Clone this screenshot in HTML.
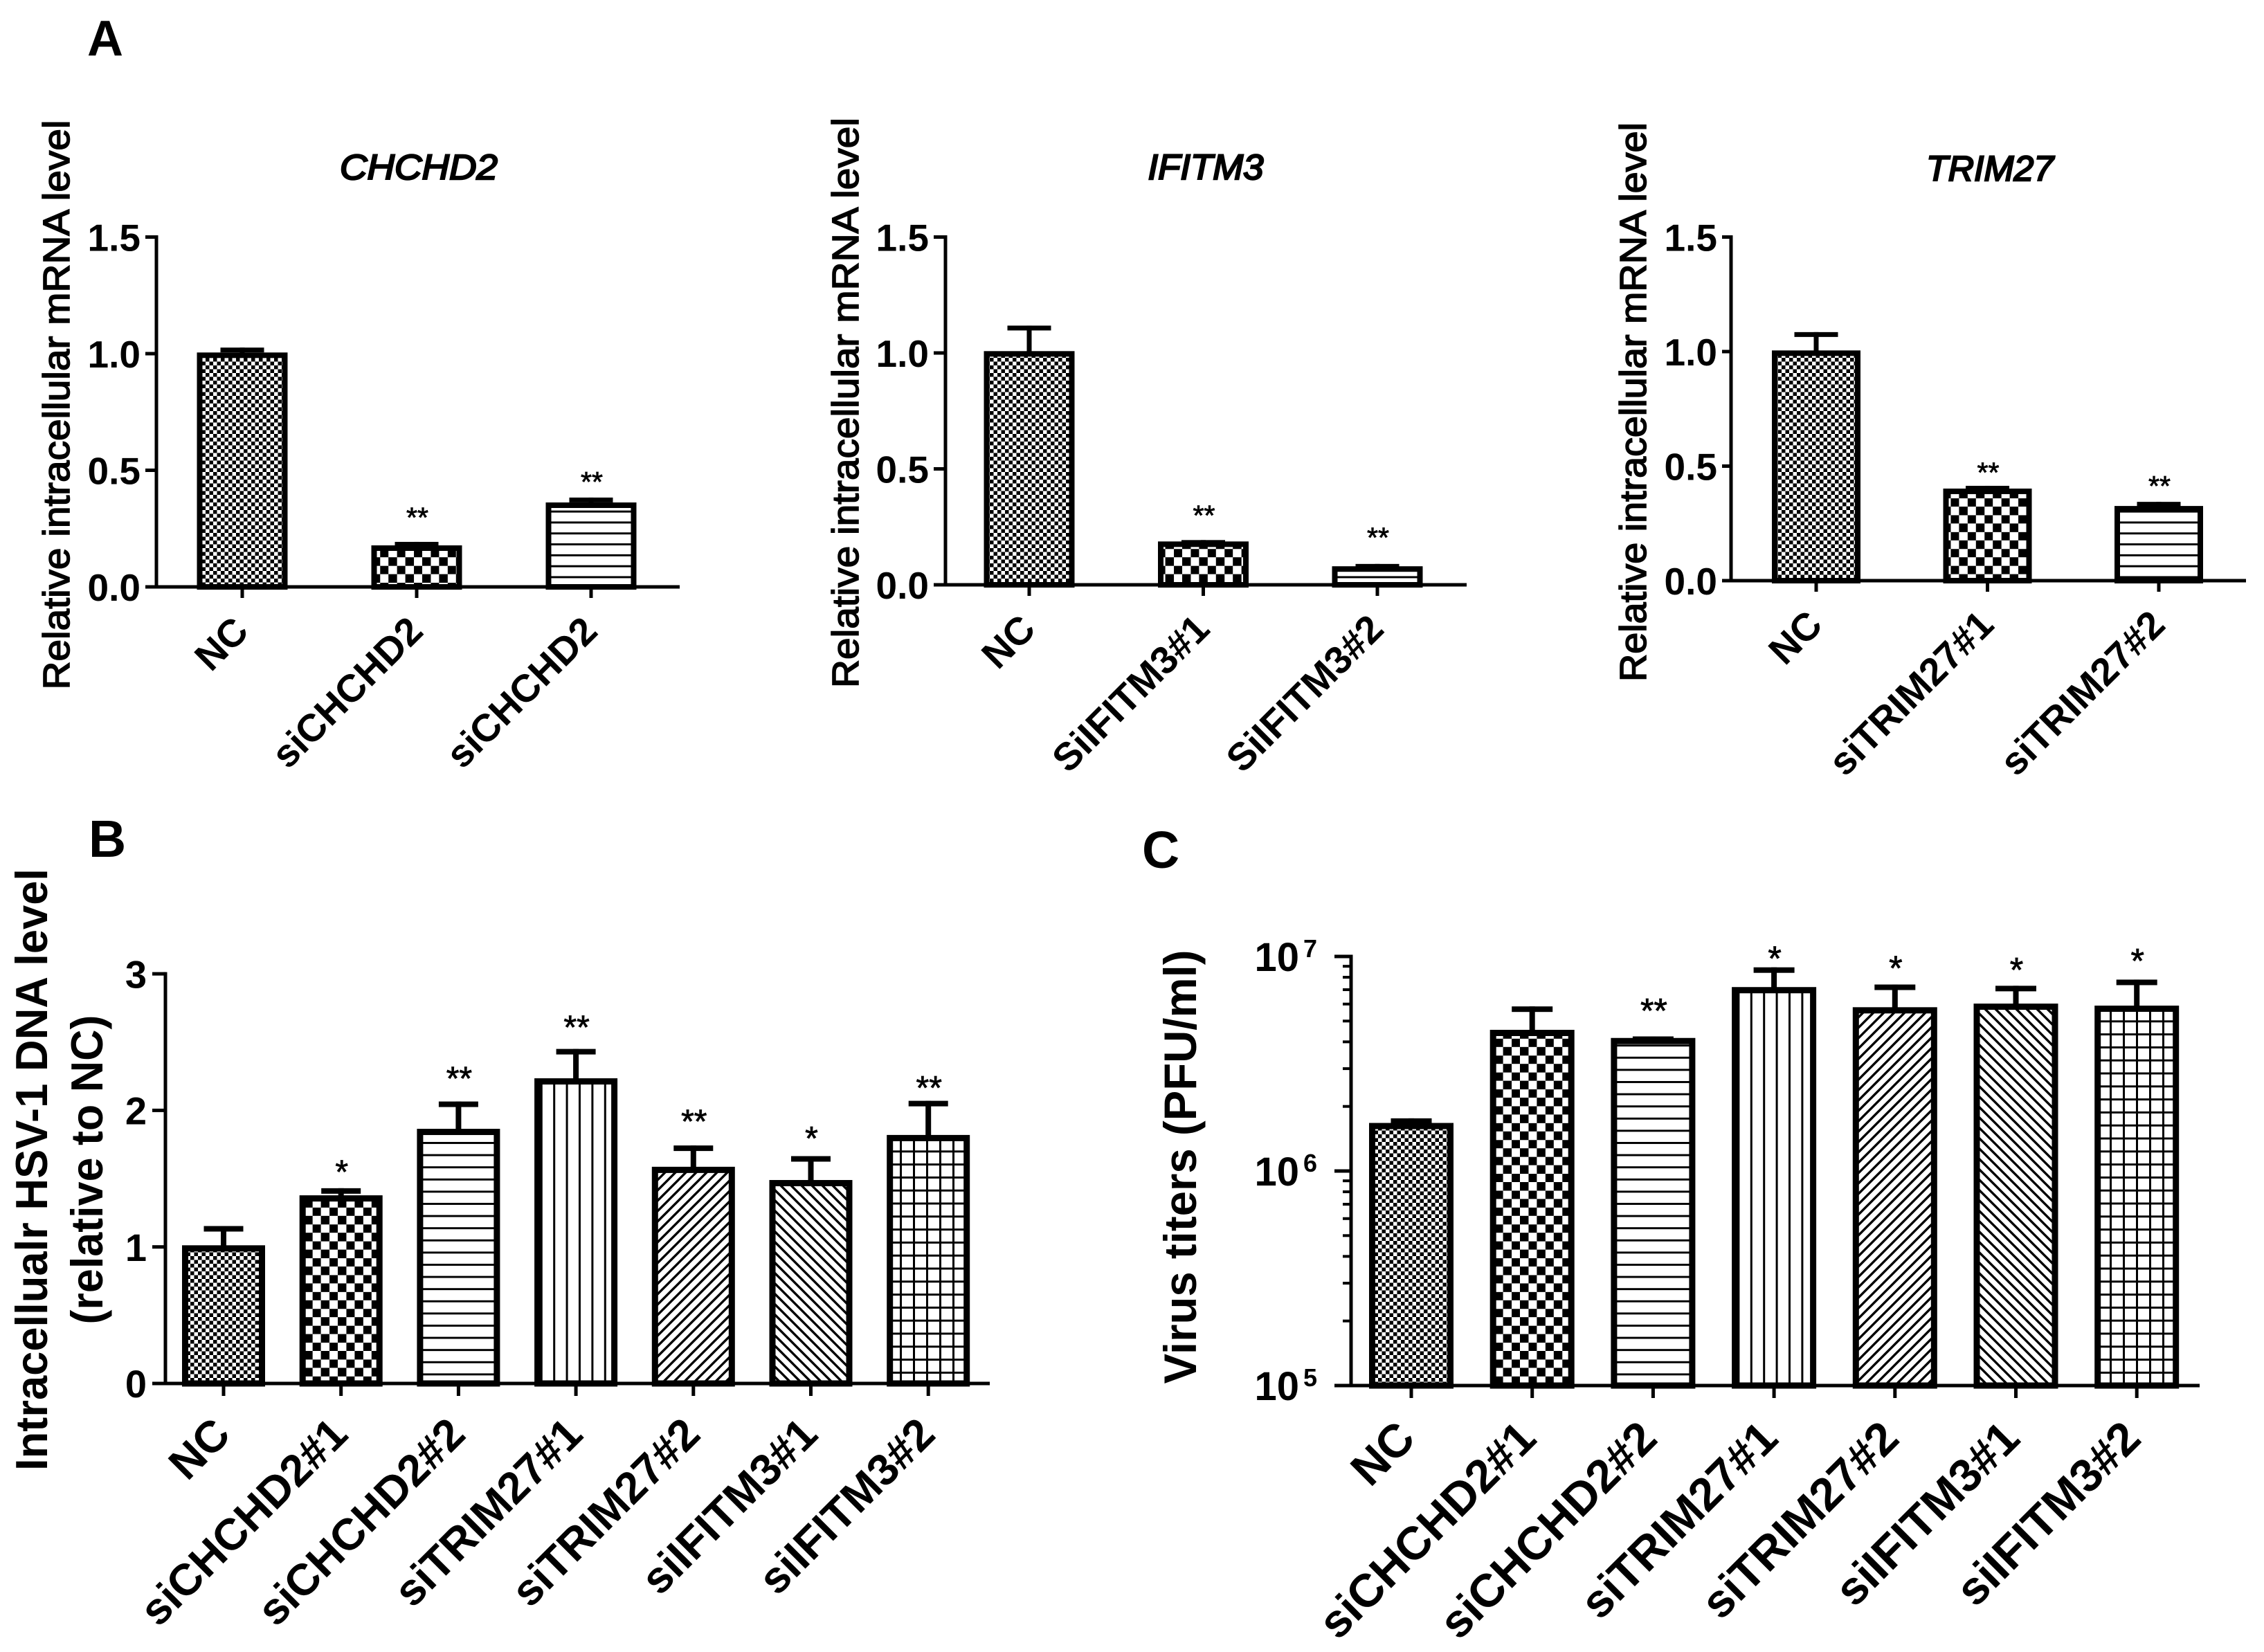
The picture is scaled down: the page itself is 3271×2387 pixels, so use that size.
<!DOCTYPE html>
<html lang="en">
<head>
<meta charset="utf-8">
<title>Knockdown efficiency and HSV-1 replication bar charts</title>
<style>
html,body{margin:0;padding:0;background:#fff;}
svg{display:block;}
text{font-family:"Liberation Sans",sans-serif;fill:#000;}
</style>
</head>
<body>
<svg id="figure" xmlns="http://www.w3.org/2000/svg" width="3271" height="2387" viewBox="0 0 3271 2387">
  <defs>
    <pattern id="fine" patternUnits="userSpaceOnUse" width="11" height="11" shape-rendering="crispEdges"><rect width="11" height="11" fill="#fff"/><rect width="5.5" height="5.5" fill="#000"/><rect x="5.5" y="5.5" width="5.5" height="5.5" fill="#000"/></pattern>
    <pattern id="check" patternUnits="userSpaceOnUse" width="24.4" height="24.4" shape-rendering="crispEdges"><rect width="24.4" height="24.4" fill="#fff"/><rect width="12.2" height="12.2" fill="#000"/><rect x="12.2" y="12.2" width="12.2" height="12.2" fill="#000"/></pattern>
    <pattern id="hline" patternUnits="userSpaceOnUse" width="18" height="17.6" shape-rendering="crispEdges"><rect width="18" height="17.6" fill="#fff"/><rect y="13" width="18" height="3" fill="#000"/></pattern>
    <pattern id="hlineA" patternUnits="userSpaceOnUse" width="18" height="15.8" shape-rendering="crispEdges"><rect width="18" height="15.8" fill="#fff"/><rect y="11" width="18" height="3" fill="#000"/></pattern>
    <pattern id="vline" patternUnits="userSpaceOnUse" width="18.4" height="18"><rect width="18.4" height="18" fill="#fff"/><rect x="8" width="3" height="18" fill="#000"/></pattern>
    <pattern id="diagUp" patternUnits="userSpaceOnUse" width="15" height="15"><rect width="15" height="15" fill="#fff"/><path d="M-3 18L18 -3" stroke="#000" stroke-width="3.4"/><path d="M-3 3L3 -3M12 18L18 12" stroke="#000" stroke-width="3.4"/></pattern>
    <pattern id="diagDown" patternUnits="userSpaceOnUse" width="15" height="15"><rect width="15" height="15" fill="#fff"/><path d="M-3 -3L18 18" stroke="#000" stroke-width="3.4"/><path d="M12 -3L18 3M-3 12L3 18" stroke="#000" stroke-width="3.4"/></pattern>
    <pattern id="grid" patternUnits="userSpaceOnUse" width="19" height="18.8" shape-rendering="crispEdges"><rect width="19" height="18.8" fill="#fff"/><rect x="8" width="3" height="18.8" fill="#000"/><rect y="8" width="19" height="3" fill="#000"/></pattern>
  </defs>
  <text x="126" y="80" font-size="72" font-weight="700">A</text>
  <text x="128" y="1238" font-size="75" font-weight="700">B</text>
  <text x="1650" y="1254" font-size="75" font-weight="700">C</text>
  <g id="charts"></g>
</svg>
<script>
// ---------- Panel A: CHCHD2 ----------
var chchd2Categories = ['NC', 'siCHCHD2', 'siCHCHD2'];
var chchd2Values = [1.005, 0.178, 0.362];
var chchd2ErrorTops = [1.026, 0.193, 0.383];
var chchd2SigLabels = ['', '**', '**'];
var chchd2SigLevels = [0, 0.308, 0.46];
var mrnaTickValues = [0, 0.5, 1.0, 1.5];
var mrnaTickLabels = ['0.0', '0.5', '1.0', '1.5'];

// ---------- Panel A: IFITM3 ----------
var ifitm3Categories = ['NC', 'SiIFITM3#1', 'SiIFITM3#2'];
var ifitm3Values = [1.008, 0.187, 0.08];
var ifitm3ErrorTops = [1.118, 0.193, 0.09];
var ifitm3SigLabels = ['', '**', '**'];
var ifitm3SigLevels = [0, 0.31, 0.214];

// ---------- Panel A: TRIM27 ----------
var trim27Categories = ['NC', 'siTRIM27#1', 'siTRIM27#2'];
var trim27Values = [1.005, 0.402, 0.326];
var trim27ErrorTops = [1.085, 0.414, 0.344];
var trim27SigLabels = ['', '**', '**'];
var trim27SigLevels = [0, 0.483, 0.423];

// ---------- Panel B: intracellular HSV-1 DNA ----------
var dnaCategories = ['NC', 'siCHCHD2#1', 'siCHCHD2#2', 'siTRIM27#1', 'siTRIM27#2', 'siIFITM3#1', 'siIFITM3#2'];
var dnaValues = [1.012, 1.378, 1.865, 2.235, 1.587, 1.49, 1.82];
var dnaErrorTops = [1.153, 1.43, 2.065, 2.45, 1.743, 1.665, 2.07];
var dnaSigLabels = ['', '*', '**', '**', '**', '*', '**'];
var dnaSigLevels = [0, 1.576, 2.26, 2.635, 1.945, 1.82, 2.19];
var dnaTickValues = [0, 1, 2, 3];
var dnaTickLabels = ['0', '1', '2', '3'];

// ---------- Panel C: virus titers (log axis) ----------
var titerCategories = ['NC', 'siCHCHD2#1', 'siCHCHD2#2', 'siTRIM27#1', 'siTRIM27#2', 'siIFITM3#1', 'siIFITM3#2'];
var titerValues = [1675000, 4550000, 4170000, 7200000, 5800000, 6030000, 5900000];
var titerErrorTops = [1760000, 5850000, 4240000, 8900000, 7400000, 7300000, 7800000];
var titerSigLabels = ['', '', '**', '*', '*', '*', '*'];
var titerSigLevels = [0, 0, 5820000, 10200000, 9180000, 9000000, 9930000];
var titerTickExponents = [5, 6, 7];

var SVG_NS = 'http://www.w3.org/2000/svg';
var chartsRoot = document.getElementById('charts');

function mk(tag, attrs, parent) {
  var node = document.createElementNS(SVG_NS, tag);
  for (var key in attrs) { node.setAttribute(key, attrs[key]); }
  parent.appendChild(node);
  return node;
}
function slug(s) { return String(s).toLowerCase().replace(/#/g, '-').replace(/\./g, '-'); }

function drawPanel(p) {
  var group = mk('g', {}, chartsRoot);
  
  

  var yScale;
  if (p.log) {
    yScale = function (v) { return p.y0 - (Math.log10(v) - p.logMin) * p.decadePx; };
  } else {
    yScale = function (v) { return p.y0 - v * p.unitPx; };
  }
  var xScale = function (i) { return p.firstX + i * p.stepX; };
  var axisTopY = p.log ? yScale(Math.pow(10, p.logMax)) : yScale(p.yMax);

  // bars and error bars
  p.categories.forEach(function (cat, i) {
    var cx = xScale(i);
    var top = yScale(p.values[i]);
    var errTop = yScale(p.errorTops[i]);
    var stem = mk('rect', { x: cx - p.stemW / 2, y: errTop, width: p.stemW, height: top - errTop + 4, fill: '#000' }, group);
    
    
    var cap = mk('rect', { x: cx - p.capW / 2, y: errTop, width: p.capW, height: p.capH, fill: '#000' }, group);
    
    
    var bar = mk('rect', {
      x: cx - p.barW / 2 + p.barStroke / 2, y: top + p.barStroke / 2,
      width: p.barW - p.barStroke, height: p.y0 - top - p.barStroke / 2,
      fill: 'url(#' + p.fills[i] + ')', stroke: '#000', 'stroke-width': p.barStroke
    }, group);
    
    

    var tick = mk('rect', { x: cx - 2.5, y: p.y0, width: 5, height: p.xTickLen, fill: '#000' }, group);
    
    

    var px = cx + p.labelDx, py = p.y0 + p.labelDy;
    var lab = mk('text', { x: px, y: py, 'font-size': p.labelFont, 'font-weight': 700, 'text-anchor': 'end', transform: 'rotate(-45 ' + px + ' ' + py + ')' }, group);
    lab.textContent = cat;
    
    

    if (p.sigLabels[i]) {
      var sy = yScale(p.sigLevels[i]) + 0.59 * p.starFont - 7;
      var star = mk('text', { x: cx + 1, y: sy, 'font-size': p.starFont, 'text-anchor': 'middle', stroke: '#000', 'stroke-width': 0.8 }, group);
      star.textContent = p.sigLabels[i];
      
      
    }
  });

  // axes
  var yAxis = mk('rect', { x: p.axisX - 2.5, y: axisTopY - 2.5, width: 5, height: p.y0 - axisTopY + 5, fill: '#000' }, group);
  
  
  var xAxis = mk('rect', { x: p.xStart, y: p.y0 - 2.5, width: p.xEnd - p.xStart, height: 5, fill: '#000' }, group);
  
  

  // y ticks + labels
  if (p.log) {
    p.tickExponents.forEach(function (exp) {
      var ty = yScale(Math.pow(10, exp));
      var t = mk('rect', { x: p.xStart, y: ty - 2.5, width: p.axisX - p.xStart, height: 5, fill: '#000' }, group);
      
      
      var base = mk('text', { x: p.tickLabelX - 26, y: ty + 21, 'font-size': p.tickFont, 'font-weight': 700, 'text-anchor': 'end' }, group);
      base.textContent = '10';
      
      
      var sup = mk('text', { x: p.tickLabelX, y: ty + 1, 'font-size': 36, 'font-weight': 700, 'text-anchor': 'end' }, group);
      sup.textContent = String(exp);
      
      
      if (exp < p.logMax) {
        for (var m = 2; m <= 9; m++) {
          var my = yScale(m * Math.pow(10, exp));
          var mt = mk('rect', { x: p.axisX - 12, y: my - 2, width: 12, height: 4, fill: '#000' }, group);
          
          
        }
      }
    });
  } else {
    p.tickValues.forEach(function (v, i) {
      var ty = yScale(v);
      var t = mk('rect', { x: p.xStart, y: ty - 2.5, width: p.axisX - p.xStart, height: 5, fill: '#000' }, group);
      
      
      var tl = mk('text', { x: p.tickLabelX, y: ty + 0.36 * p.tickFont, 'font-size': p.tickFont, 'font-weight': 700, 'text-anchor': 'end' }, group);
      tl.textContent = p.tickLabels[i];
      
      
    });
  }

  // y-axis title lines
  p.yTitles.forEach(function (line, i) {
    var tx = line.x, tyc = line.cy;
    var yt = mk('text', {
      x: tx, y: tyc, 'font-size': line.font, 'font-weight': line.weight, 'text-anchor': 'middle',
      textLength: line.len, lengthAdjust: 'spacingAndGlyphs',
      stroke: '#000', 'stroke-width': line.stroke || 0,
      transform: 'rotate(-90 ' + tx + ' ' + tyc + ')'
    }, group);
    yt.textContent = line.text;
    
    
  });

  // gene title
  if (p.title) {
    var title = mk('text', {
      x: p.title.x, y: p.title.y, 'font-size': 51, 'font-weight': 400, 'font-style': 'italic', 'text-anchor': 'middle',
      stroke: '#000', 'stroke-width': 2.4,
      textLength: p.title.len, lengthAdjust: 'spacingAndGlyphs'
    }, group);
    title.textContent = p.title.text;
    
    
  }
}

var mrnaStyle = { barW: 131, barStroke: 8, stemW: 7, capW: 63, capH: 7, xTickLen: 16, labelFont: 56, labelDx: 12, labelDy: 67, starFont: 41, tickFont: 55, yMax: 1.5 };
var manyStyle = { barW: 120, barStroke: 9, stemW: 8, capW: 57, capH: 8, xTickLen: 18, labelFont: 64, labelDx: 13, labelDy: 77, starFont: 48, tickFont: 56 };

function merge(a, b) { var o = {}; for (var k in a) o[k] = a[k]; for (var j in b) o[j] = b[j]; return o; }

drawPanel(merge(mrnaStyle, {
  id: 'chchd2', axisX: 226, y0: 848, unitPx: 337, firstX: 350, stepX: 252, xStart: 210, xEnd: 982, tickLabelX: 203,
  categories: chchd2Categories, values: chchd2Values, errorTops: chchd2ErrorTops, sigLabels: chchd2SigLabels, sigLevels: chchd2SigLevels,
  tickValues: mrnaTickValues, tickLabels: mrnaTickLabels, fills: ['fine', 'check', 'hlineA'],
  title: { text: 'CHCHD2', x: 605, y: 259, len: 228 },
  yTitles: [{ text: 'Relative intracellular mRNA level', x: 100, cy: 585, len: 823, font: 54, weight: 400, stroke: 1.6 }]
}));
drawPanel(merge(mrnaStyle, {
  id: 'ifitm3', axisX: 1366, y0: 845, unitPx: 335, firstX: 1487, stepX: 251.5, xStart: 1349, xEnd: 2119, tickLabelX: 1342,
  categories: ifitm3Categories, values: ifitm3Values, errorTops: ifitm3ErrorTops, sigLabels: ifitm3SigLabels, sigLevels: ifitm3SigLevels,
  tickValues: mrnaTickValues, tickLabels: mrnaTickLabels, fills: ['fine', 'check', 'hlineA'],
  title: { text: 'IFITM3', x: 1742, y: 259, len: 167 },
  yTitles: [{ text: 'Relative intracellular mRNA level', x: 1240, cy: 582, len: 824, font: 54, weight: 400, stroke: 1.6 }]
}));
drawPanel(merge(mrnaStyle, {
  id: 'trim27', axisX: 2501, y0: 839, unitPx: 331, firstX: 2624, stepX: 247.5, barW: 128, xStart: 2488, xEnd: 3245, tickLabelX: 2481,
  categories: trim27Categories, values: trim27Values, errorTops: trim27ErrorTops, sigLabels: trim27SigLabels, sigLevels: trim27SigLevels,
  tickValues: mrnaTickValues, tickLabels: mrnaTickLabels, fills: ['fine', 'check', 'hlineA'],
  title: { text: 'TRIM27', x: 2875, y: 261, len: 184 },
  yTitles: [{ text: 'Relative intracellular mRNA level', x: 2378, cy: 581, len: 808, font: 54, weight: 400, stroke: 1.6 }]
}));
drawPanel(merge(manyStyle, {
  id: 'hsv1-dna', axisX: 239, y0: 1999, unitPx: 197.3, yMax: 3, firstX: 323, stepX: 169.7, xStart: 220, xEnd: 1430, tickLabelX: 212,
  categories: dnaCategories, values: dnaValues, errorTops: dnaErrorTops, sigLabels: dnaSigLabels, sigLevels: dnaSigLevels,
  tickValues: dnaTickValues, tickLabels: dnaTickLabels, fills: ['fine', 'check', 'hline', 'vline', 'diagUp', 'diagDown', 'grid'],
  yTitles: [
    { text: 'Intracellualr HSV-1 DNA level', x: 68, cy: 1690, len: 870, font: 65, weight: 700 },
    { text: '(relative to NC)', x: 148, cy: 1690, len: 447, font: 65, weight: 700 }
  ]
}));
drawPanel(merge(manyStyle, {
  id: 'virus-titers', log: true, logMin: 5, logMax: 7, decadePx: 310, axisX: 1952, y0: 2002, firstX: 2039, stepX: 174.7,
  barW: 122, capW: 59, labelFont: 67, labelDx: 9, labelDy: 80, starFont: 50, tickFont: 58, xStart: 1928, xEnd: 3178, tickLabelX: 1903,
  categories: titerCategories, values: titerValues, errorTops: titerErrorTops, sigLabels: titerSigLabels, sigLevels: titerSigLevels,
  tickExponents: titerTickExponents, fills: ['fine', 'check', 'hline', 'vline', 'diagUp', 'diagDown', 'grid'],
  yTitles: [{ text: 'Virus titers (PFU/ml)', x: 1728, cy: 1686, len: 627, font: 66, weight: 700 }]
}));
</script>
</body>
</html>
